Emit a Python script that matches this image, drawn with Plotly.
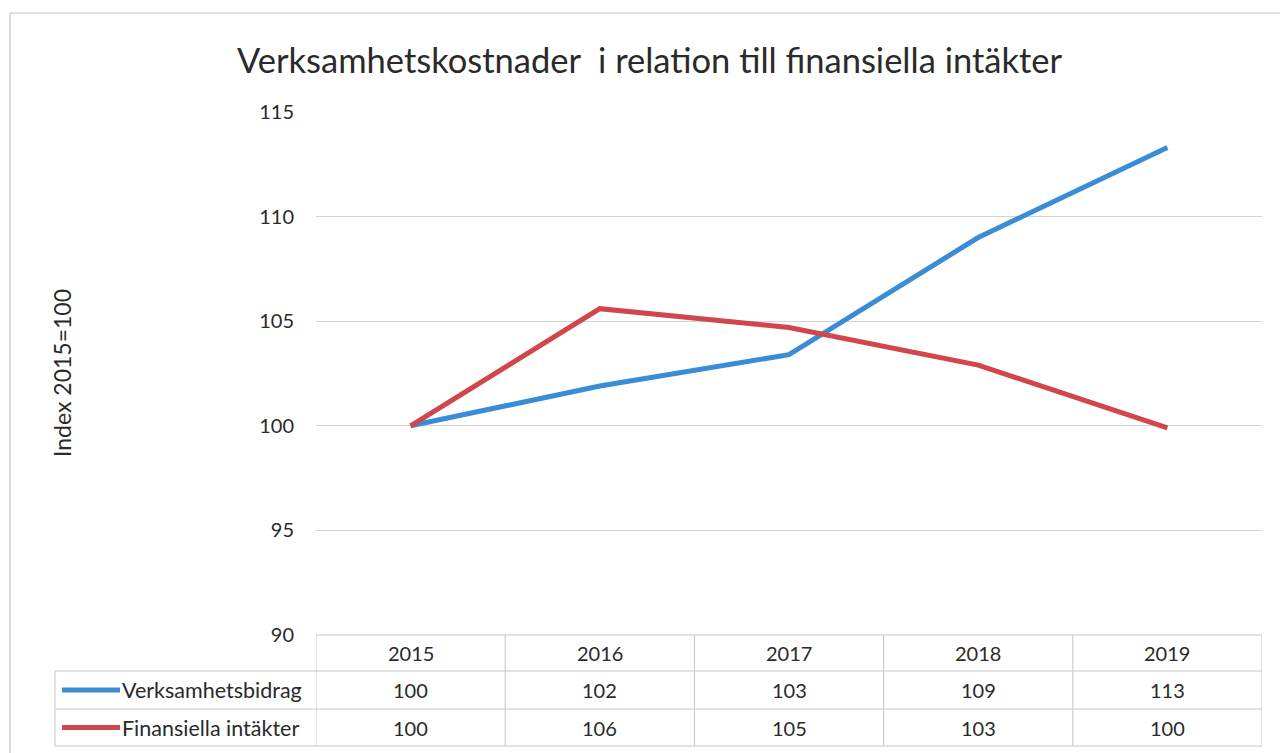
import plotly.graph_objects as go

# ---- data ----
years = ["2015", "2016", "2017", "2018", "2019"]
verksamhetsbidrag = [100, 101.9, 103.4, 109.0, 113.3]
finansiella_intakter = [100, 105.6, 104.7, 102.9, 99.9]
series_names = ["Verksamhetsbidrag", "Finansiella intäkter"]
y_ticks = [90, 95, 100, 105, 110, 115]

title_text = "Verksamhetskostnader  i relation till finansiella intäkter"
y_title = "Index 2015=100"

W, H = 1280, 753
BLUE = "#3a8cd6"
RED = "#d1464b"
GRID = "#d3d3dc"
TBL = "#c6c6c6"
TXT = "#2a2a2a"
FONT = "Lato"


def py(p):  # pixel-from-top -> paper y
    return (H - p) / H


def px(p):
    return p / W


plot_left, plot_right = 316, 1262
plot_top, plot_bottom = 112, 635

fig = go.Figure()
colors = [BLUE, RED]
for name, vals, col in zip(series_names, [verksamhetsbidrag, finansiella_intakter], colors):
    fig.add_trace(go.Scatter(x=years, y=vals, mode="lines", name=name,
                             line=dict(color=col, width=5), showlegend=False))

shapes = []
shapes.append(dict(type="line", xref="paper", yref="paper", x0=px(10), x1=px(10), y0=py(13), y1=0,
                   line=dict(color="#cfcfcf", width=1.5)))
shapes.append(dict(type="line", xref="paper", yref="paper", x0=px(10), x1=1, y0=py(13), y1=py(13),
                   line=dict(color="#d6d6d6", width=1.5)))

row_lines = [plot_bottom, 671, 709, 746]
shapes.append(dict(type="line", xref="paper", yref="paper", x0=px(plot_left), x1=px(plot_right),
                   y0=py(row_lines[0]), y1=py(row_lines[0]), line=dict(color=TBL, width=1)))
for r in row_lines[1:]:
    shapes.append(dict(type="line", xref="paper", yref="paper", x0=px(55), x1=px(plot_right),
                       y0=py(r), y1=py(r), line=dict(color=TBL, width=1)))
shapes.append(dict(type="line", xref="paper", yref="paper", x0=px(55), x1=px(55),
                   y0=py(row_lines[1]), y1=py(row_lines[3]), line=dict(color=TBL, width=1)))
for i in range(len(years) + 1):
    shapes.append(dict(type="line", xref="x", yref="paper", x0=i - 0.5, x1=i - 0.5,
                       y0=py(row_lines[0]), y1=py(row_lines[3]), line=dict(color=TBL, width=1)))
row_centers = [(row_lines[1] + row_lines[2]) / 2, (row_lines[2] + row_lines[3]) / 2]
for rc, col in zip(row_centers, colors):
    shapes.append(dict(type="line", xref="paper", yref="paper", x0=px(62), x1=px(120),
                       y0=py(rc), y1=py(rc), line=dict(color=col, width=5)))

annotations = []
annotations.append(dict(text=title_text, xref="paper", yref="paper", x=px(649), y=py(59),
                        showarrow=False, xanchor="center", yanchor="middle",
                        font=dict(family=FONT, size=34.5, color=TXT)))
annotations.append(dict(text=y_title, xref="paper", yref="paper", x=px(62), y=py(373),
                        showarrow=False, textangle=-90, xanchor="center", yanchor="middle",
                        font=dict(family=FONT, size=23, color=TXT)))
header_c = (row_lines[0] + row_lines[1]) / 2
for i, yr in enumerate(years):
    annotations.append(dict(text=yr, x=i, xref="x", yref="paper", y=py(header_c), showarrow=False,
                            xanchor="center", yanchor="middle", font=dict(family=FONT, size=20, color=TXT)))
for rc, name, vals in zip(row_centers, series_names, [verksamhetsbidrag, finansiella_intakter]):
    annotations.append(dict(text=name, xref="paper", yref="paper", x=px(120), y=py(rc), showarrow=False,
                            xanchor="left", yanchor="middle", font=dict(family=FONT, size=21.5, color=TXT)))
    for i, v in enumerate(vals):
        annotations.append(dict(text=f"{round(v):d}", x=i, xref="x", yref="paper", y=py(rc),
                                showarrow=False, xanchor="center", yanchor="middle",
                                font=dict(family=FONT, size=20, color=TXT)))

fig.update_layout(
    width=W, height=H,
    margin=dict(l=0, r=0, t=0, b=0, pad=0, autoexpand=False),
    paper_bgcolor="white", plot_bgcolor="white",
    xaxis=dict(domain=[px(plot_left), px(plot_right)], range=[-0.5, 4.5], type="category",
               automargin=False,
               showticklabels=False, showgrid=False, zeroline=False, showline=False, ticks=""),
    yaxis=dict(domain=[py(plot_bottom), py(plot_top)], range=[90, 115], tickvals=y_ticks,
               automargin=False,
               showgrid=True, gridcolor=GRID, gridwidth=1, zeroline=False, showline=False,
               ticks="", ticklabelstandoff=21,
               tickfont=dict(family=FONT, size=20, color=TXT)),
    shapes=shapes, annotations=annotations,
)

fig.write_html("out.html", config={"displayModeBar": False},
               post_script="document.body.style.margin='0';document.body.style.overflow='hidden';")
